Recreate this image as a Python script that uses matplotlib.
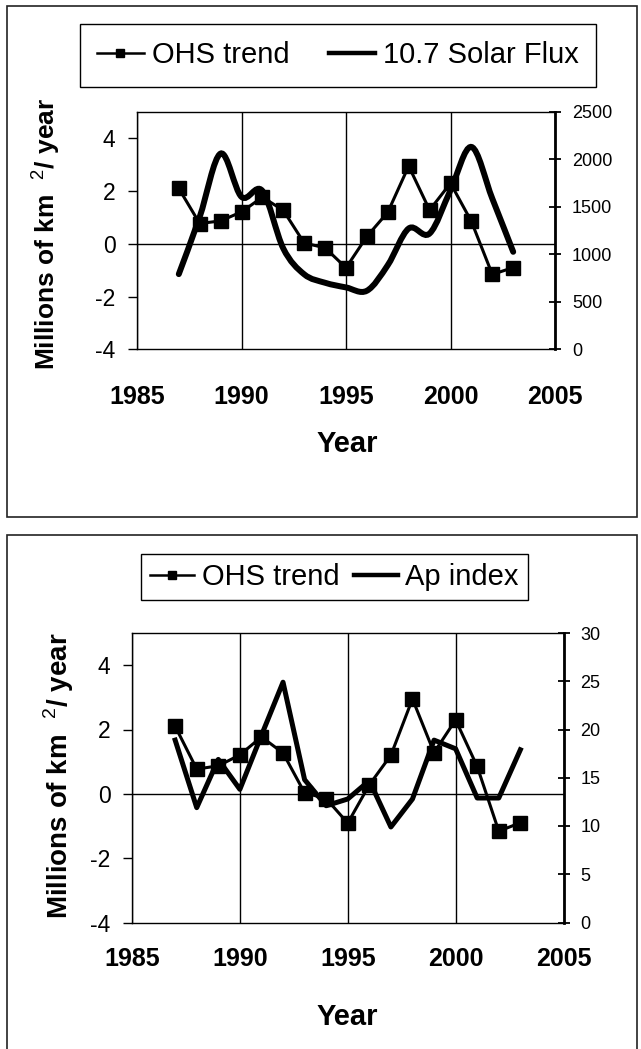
import matplotlib
matplotlib.use("Agg")
import matplotlib.pyplot as plt
from matplotlib.path import Path
from matplotlib.patches import PathPatch, Rectangle
from matplotlib.lines import Line2D

plt.rcParams['axes.unicode_minus'] = False
plt.rcParams['mathtext.fontset'] = 'custom'
plt.rcParams['mathtext.rm'] = 'Liberation Sans'

# data
years = list(range(1987, 2004))
ohs_trend = [2.1, 0.77, 0.87, 1.21, 1.77, 1.27, 0.03, -0.15, -0.91, 0.28,
             1.2, 2.95, 1.28, 2.3, 0.85, -1.16, -0.9]
solar_flux = [792, 1395, 2062, 1606, 1669, 1062, 790, 701, 652, 617,
              887, 1273, 1220, 1676, 2132, 1588, 1027]
ap_index = [18.9, 11.9, 16.9, 13.8, 19.4, 24.9, 14.8, 12.1, 12.8, 14.7,
            9.9, 12.8, 18.9, 18.0, 12.9, 12.9, 17.9]

x_ticks = [1985, 1990, 1995, 2000, 2005]
left_ticks = [-4, -2, 0, 2, 4]
flux_ticks = [0, 500, 1000, 1500, 2000, 2500]
ap_ticks = [0, 5, 10, 15, 20, 25, 30]

W, H = 641, 1049
SANS = ['Liberation Sans', 'DejaVu Sans']


def fx(px):
    return px / W


def fy(py):
    return 1 - py / H


def smooth_path(xs, ys):
    # Excel style smoothed line: cubic bezier through every point
    n = len(xs)
    verts = [(xs[0], ys[0])]
    codes = [Path.MOVETO]
    for i in range(n - 1):
        xa, ya = (xs[i - 1], ys[i - 1]) if i > 0 else (xs[i], ys[i])
        xb, yb = (xs[i + 2], ys[i + 2]) if i + 2 < n else (xs[i + 1], ys[i + 1])
        c1 = (xs[i] + (xs[i + 1] - xa) / 6, ys[i] + (ys[i + 1] - ya) / 6)
        c2 = (xs[i + 1] - (xb - xs[i]) / 6, ys[i + 1] - (yb - ys[i]) / 6)
        verts += [c1, c2, (xs[i + 1], ys[i + 1])]
        codes += [Path.CURVE4] * 3
    return Path(verts, codes)


def panel(fig, box, y2_lim, y2_ticks, x_pad):
    l, t, r, b = box
    ax = fig.add_axes([fx(l), fy(b), fx(r - l), (b - t) / H])
    ax.set_xlim(1985, 2005)
    ax.set_ylim(-4, 5)
    ax.set_yticks(left_ticks, labels=[str(v) for v in left_ticks],
                  family=SANS, fontsize=16.5)
    ax.set_xticks(x_ticks, labels=[str(v) for v in x_ticks],
                  family=SANS, fontsize=18, fontweight='bold')
    ax.tick_params(axis='y', direction='out', length=6.5, width=1, pad=9)
    ax.tick_params(axis='x', length=0, pad=x_pad)
    ax.grid(axis='x', color='black', lw=1)
    ax.axhline(0, color='black', lw=1)
    for s in ax.spines.values():
        s.set_linewidth(1)
    ax.spines['right'].set_visible(False)

    ax2 = ax.twinx()
    ax2.set_ylim(*y2_lim)
    ax2.set_yticks(y2_ticks, labels=[str(v) for v in y2_ticks],
                   family=SANS, fontsize=13)
    ax2.tick_params(direction='inout', length=8.6, width=1.3, pad=8)
    for k in ['top', 'left', 'bottom']:
        ax2.spines[k].set_visible(False)
    ax2.spines['right'].set_linewidth(2)
    return ax, ax2


fig = plt.figure(figsize=(W / 100, H / 100), dpi=100)

# panel frames
fig.patches.append(Rectangle((fx(7), fy(517)), fx(630), 511 / H, fill=False,
                             lw=1.2, edgecolor='#222222', transform=fig.transFigure))
fig.patches.append(Rectangle((fx(7), fy(1070)), fx(630), 535 / H, fill=False,
                             lw=1.2, edgecolor='#222222', transform=fig.transFigure))

ohs_handle = Line2D([], [], color='black', lw=1.8, marker='s', markersize=5.5)
line_handle = Line2D([], [], color='black', lw=3.2)

# ---- top: OHS trend vs 10.7 solar flux
ax, ax2 = panel(fig, (137, 112, 555, 349.3), (0, 2500), flux_ticks, 26)
ax.plot(years, ohs_trend, color='black', lw=2.2, marker='s', markersize=9.5)
ax2.add_patch(PathPatch(smooth_path(years, solar_flux), fill=False,
                        lw=4.3, edgecolor='black', capstyle='round'))
fig.text(fx(347), fy(451.7), 'Year', ha='center', va='baseline',
         family=SANS, fontsize=21, fontweight='bold')
fig.text(fx(55), fy(234), r'Millions of km  $^{2}$/ year', rotation=90,
         rotation_mode='anchor', ha='center', va='baseline',
         family=SANS, fontsize=19, fontweight='bold')
leg = fig.legend([ohs_handle, line_handle], ['OHS trend', '10.7 Solar Flux'],
                 loc='center', bbox_to_anchor=(fx(338), fy(55)), ncol=2,
                 prop={'family': SANS, 'size': 21}, frameon=True,
                 fancybox=False, edgecolor='black', framealpha=1,
                 handlelength=1.6, handletextpad=0.27, columnspacing=1.35,
                 borderpad=0.6)
leg.get_frame().set_linewidth(1)

# ---- bottom: OHS trend vs Ap index
bx, bx2 = panel(fig, (132, 633, 563.5, 922.5), (0, 30), ap_ticks, 17.4)
bx.plot(years, ohs_trend, color='black', lw=2.2, marker='s', markersize=10)
bx2.plot(years, ap_index, color='black', lw=3.6)
fig.text(fx(347), fy(1025), 'Year', ha='center', va='baseline',
         family=SANS, fontsize=21, fontweight='bold')
fig.text(fx(68), fy(776), r'Millions of km  $^{2}$/ year', rotation=90,
         rotation_mode='anchor', ha='center', va='baseline',
         family=SANS, fontsize=20, fontweight='bold')
leg2 = fig.legend([ohs_handle, line_handle], ['OHS trend', 'Ap index'],
                  loc='center', bbox_to_anchor=(fx(334.5), fy(577)), ncol=2,
                  prop={'family': SANS, 'size': 21}, frameon=True,
                  fancybox=False, edgecolor='black', framealpha=1,
                  handlelength=1.5, handletextpad=0.27, columnspacing=0.5,
                  borderpad=0.3)
leg2.get_frame().set_linewidth(1)

fig.savefig('out.png', dpi=100)
